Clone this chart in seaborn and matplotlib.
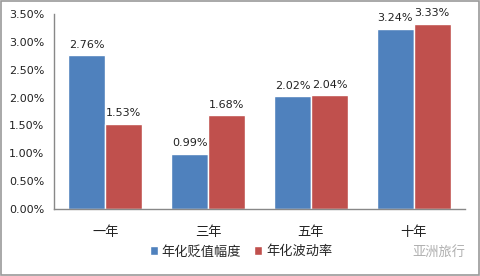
import matplotlib
matplotlib.use("Agg")
import matplotlib.pyplot as plt
import seaborn as sns
import pandas as pd
from matplotlib.patches import Rectangle

categories = ["一年", "三年", "五年", "十年"]
depreciation = [2.76, 0.99, 2.02, 3.24]
volatility = [1.53, 1.68, 2.04, 3.33]
series_names = ["年化贬值幅度", "年化波动率"]
yticks = [0.0, 0.5, 1.0, 1.5, 2.0, 2.5, 3.0, 3.5]

df = pd.DataFrame({
    "cat": categories * 2,
    "val": depreciation + volatility,
    "series": [series_names[0]] * 4 + [series_names[1]] * 4,
})

sns.set_theme(style="white")
plt.rcParams["font.family"] = ["Noto Sans CJK SC", "DejaVu Sans"]

fig = plt.figure(figsize=(4.81, 2.76), dpi=100)
ax = fig.add_axes([0.112, 0.243, 0.855, 0.706])
palette = ["#4F81BD", "#C0504D"]
sns.barplot(data=df, x="cat", y="val", hue="series", palette=palette,
            width=0.72, saturation=1, ax=ax, legend=True, errorbar=None)

ax.set_ylim(0, 3.5)
ax.set_yticks(yticks)
ax.set_yticklabels([f"{t:.2f}%" for t in yticks], fontsize=8, color="#222222",
                   family="DejaVu Sans")
ax.tick_params(axis="x", labelsize=9.5, colors="#222222", length=0, pad=12)
ax.tick_params(axis="y", length=0, pad=7)
ax.set_xlabel("")
ax.set_ylabel("")
for s in ["top", "right"]:
    ax.spines[s].set_visible(False)
for s in ["left", "bottom"]:
    ax.spines[s].set_color("#888888")
    ax.spines[s].set_linewidth(1.0)

for cont in ax.containers:
    ax.bar_label(cont, labels=[f"{v:.2f}%" for v in cont.datavalues],
                 fontsize=8, color="#222222", padding=4, family="DejaVu Sans")

ax.legend(loc="center", bbox_to_anchor=(0.455, -0.22), ncol=2, frameon=False,
          fontsize=9.5, handlelength=0.6, handleheight=0.6, handletextpad=0.3,
          columnspacing=1.0)

fig.text(0.967, 0.087, "亚洲旅行", fontsize=9.5, color="#b0b0b0", ha="right", va="center")

fig.patches.append(Rectangle((0.002, 0.004), 0.994, 0.992, transform=fig.transFigure,
                             fill=False, edgecolor="#999999", linewidth=1.2))

fig.savefig("out.png", dpi=100)
